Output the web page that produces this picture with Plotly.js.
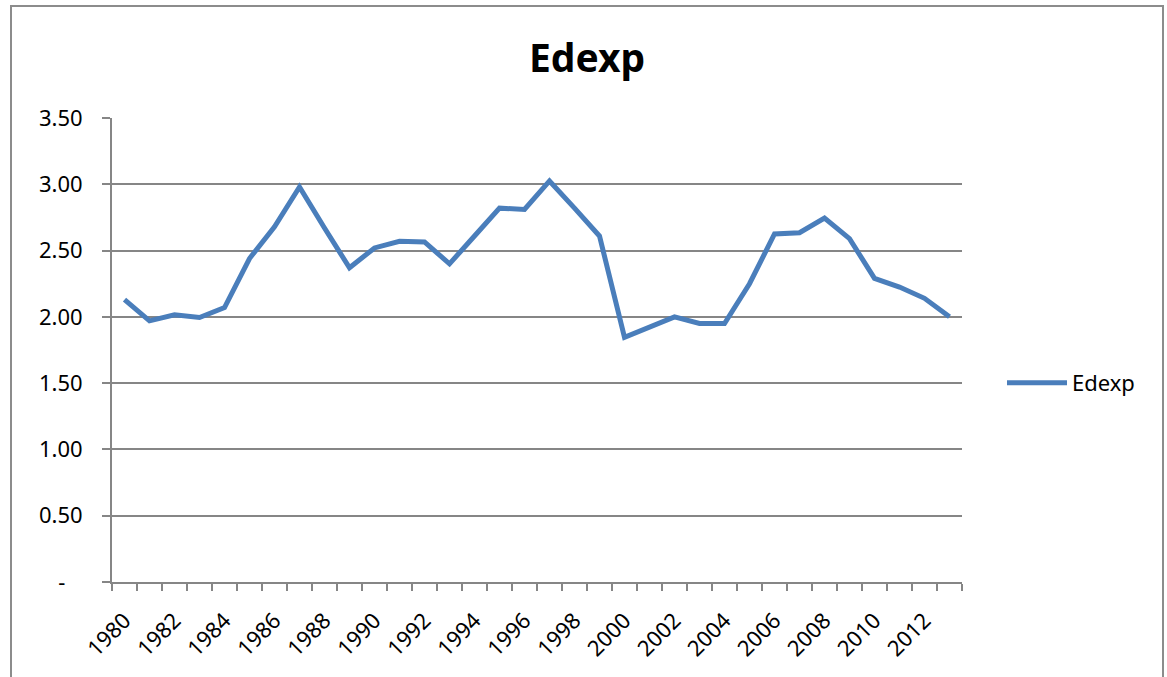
<!DOCTYPE html>
<html>
<head>
<meta charset="utf-8">
<script src="https://cdn.plot.ly/plotly-3.0.1.min.js"></script>
<style>
  html, body { margin: 0; padding: 0; background: #fff; }
  #wrap { position: relative; width: 1167px; height: 677px; overflow: hidden; }
  #chart { position: absolute; left: 0; top: 0; width: 1167px; height: 677px; }
  #frame { position: absolute; left: 10px; top: 5px; width: 1154px; height: 720px;
           border: 2px solid #8c8c8c; box-sizing: border-box; pointer-events: none; }
</style>
</head>
<body>
<div id="wrap">
  <div id="chart"></div>
  <div id="frame"></div>
</div>
<script>
const years = [1980,1981,1982,1983,1984,1985,1986,1987,1988,1989,1990,1991,1992,1993,1994,1995,1996,1997,1998,1999,2000,2001,2002,2003,2004,2005,2006,2007,2008,2009,2010,2011,2012,2013];
const edexp = [2.13,1.97,2.015,1.995,2.07,2.44,2.68,2.98,2.67,2.37,2.52,2.57,2.565,2.40,2.61,2.82,2.81,3.025,2.82,2.61,1.845,1.925,2.00,1.95,1.95,2.25,2.625,2.635,2.745,2.59,2.29,2.225,2.14,2.00];
const xTickVals = [1980,1982,1984,1986,1988,1990,1992,1994,1996,1998,2000,2002,2004,2006,2008,2010,2012];
const xTickText = xTickVals.map(String);
const yTickVals = [0,0.5,1,1.5,2,2.5,3,3.5];
const yTickText = ['-&nbsp;&nbsp;&nbsp;','0.50','1.00','1.50','2.00','2.50','3.00','3.50'];

const axisGray = '#868686';
const font = {family: 'Noto Sans, Open Sans, sans-serif', size: 22, color: '#000'};

const trace = {
  x: years, y: edexp, type: 'scatter', mode: 'lines', name: 'Edexp',
  line: {color: '#4a7ebb', width: 5}
};

const layout = {
  width: 1167, height: 677,
  margin: {l: 112, r: 205, t: 118, b: 95, pad: 0},
  paper_bgcolor: '#fff', plot_bgcolor: '#fff',
  font: font,
  title: {text: '<b>Edexp</b>', font: {family: 'Noto Sans, Open Sans, sans-serif', size: 39, color: '#000'},
          x: 0.503, xref: 'container', xanchor: 'center', y: 1 - 58/677, yref: 'container', yanchor: 'middle'},
  xaxis: {
    range: [1979.5, 2013.5], tickmode: 'array', tickvals: xTickVals, ticktext: xTickText,
    tickangle: -45, ticks: '', showgrid: false, zeroline: false,
    showline: true, linecolor: axisGray, linewidth: 2,
    ticklabelstandoff: 15,
    tickfont: font,
    minor: {tick0: 1979.5, dtick: 1, ticks: 'outside', ticklen: 7, tickcolor: axisGray, tickwidth: 2, showgrid: false}
  },
  yaxis: {
    range: [0, 3.5], tickmode: 'array', tickvals: yTickVals, ticktext: yTickText,
    ticks: 'outside', ticklen: 8, tickcolor: axisGray, tickwidth: 2,
    showgrid: true, gridcolor: axisGray, gridwidth: 2, zeroline: false,
    showline: true, linecolor: axisGray, linewidth: 2,
    ticklabelstandoff: 15,
    tickfont: font
  },
  showlegend: true,
  legend: {x: (1002 - 112) / 850, xanchor: 'left', y: (582 - 383) / 464, yanchor: 'middle',
           itemwidth: 60,
           font: font, bgcolor: 'rgba(0,0,0,0)', borderwidth: 0},
};

Plotly.newPlot('chart', [trace], layout, {displayModeBar: false, staticPlot: true});
</script>
</body>
</html>
